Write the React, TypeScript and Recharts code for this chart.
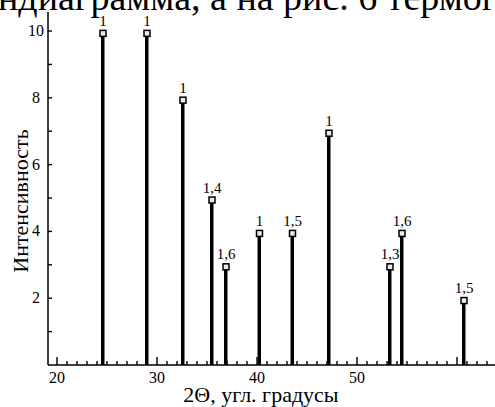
import React from 'react';
import { ComposedChart, Bar, Scatter, XAxis, YAxis, LabelList } from 'recharts';

const angles = [24.6, 29.0, 32.6, 35.5, 36.9, 40.25, 43.55, 47.2, 53.3, 54.5, 60.7];
const intensities = [9.93, 9.93, 7.93, 4.94, 2.94, 3.94, 3.94, 6.94, 2.94, 3.94, 1.93];
const peakLabels = ['1', '1', '1', '1,4', '1,6', '1', '1,5', '1', '1,3', '1,6', '1,5'];

const xTicks = Array.from({ length: 44 }, (_, i) => 20 + i);
const xLabelTicks = [20, 30, 40, 50];
const xMajorTicks = [20, 30, 40, 50, 60];
const yTicks = [1, 2, 3, 4, 5, 6, 7, 8, 9, 10];
const yLabelTicks = [2, 4, 6, 8, 10];

const headerText = 'ндиаграмма, а на рис. 6 термог';
const xTitle = '2Θ, угл. градусы';
const yTitle = 'Интенсивность';

const data = angles.map((a, i) => ({ angle: a, intensity: intensities[i], label: peakLabels[i] }));

const FONT = '"Liberation Serif", "Times New Roman", serif';

const XTick = (props: any) => {
  const { x, y, payload } = props;
  const v = payload.value;
  const major = xMajorTicks.includes(v);
  return (
    <g>
      <line x1={x} y1={y} x2={x} y2={y - (major ? 8 : 4)} stroke="#000" strokeWidth={1.4} />
      {xLabelTicks.includes(v) && (
        <text x={x} y={y + 18} textAnchor="middle" fontSize={16} fontFamily={FONT} fill="#000">
          {v}
        </text>
      )}
    </g>
  );
};

const YTick = (props: any) => {
  const { x, y, payload } = props;
  const v = payload.value;
  return (
    <g>
      <line x1={x} y1={y} x2={x + 4} y2={y} stroke="#000" strokeWidth={1.4} />
      {yLabelTicks.includes(v) && (
        <text x={x - 12} y={y + 5} textAnchor="middle" fontSize={16} fontFamily={FONT} fill="#000">
          {v}
        </text>
      )}
    </g>
  );
};

const Marker = (props: any) => {
  const { cx, cy } = props;
  return <rect x={cx - 3} y={cy - 3} width={6} height={6} fill="#e8e8e8" stroke="#000" strokeWidth={1.5} />;
};

export default function App() {
  return (
    <div style={{ position: 'absolute', left: 0, top: 0, width: 495, height: 407, background: '#fff', overflow: 'hidden' }}>
      <ComposedChart
        width={495}
        height={407}
        data={data}
        margin={{ top: 12, right: 0, bottom: 0, left: 0 }}
      >
        <XAxis
          dataKey="angle"
          type="number"
          domain={[19.1, 63.8]}
          allowDataOverflow
          ticks={xTicks}
          interval={0}
          height={42}
          tickSize={0}
          tickMargin={0}
          tickLine={false}
          tick={<XTick />}
          axisLine={{ stroke: '#000', strokeWidth: 1.5 }}
        />
        <YAxis
          type="number"
          domain={[0, 10.57]}
          allowDataOverflow
          ticks={yTicks}
          interval={0}
          width={48}
          tickSize={0}
          tickMargin={0}
          tickLine={false}
          tick={<YTick />}
          axisLine={{ stroke: '#000', strokeWidth: 1.5 }}
        />
        <Bar dataKey="intensity" fill="#000" barSize={3.5} isAnimationActive={false} />
        <Scatter dataKey="intensity" shape={<Marker />} isAnimationActive={false}>
          <LabelList
            dataKey="label"
            position="top"
            offset={3}
            fontSize={15}
            fontFamily={FONT}
            fill="#000"
          />
        </Scatter>
      </ComposedChart>
      <svg width={495} height={407} style={{ position: 'absolute', left: 0, top: 0, pointerEvents: 'none' }}>
        <text x={-2} y={10} fontSize={38} fontFamily={FONT} fill="#000">
          {headerText}
        </text>
        <text x={261} y={402} textAnchor="middle" fontSize={22} fontFamily={FONT} fill="#000">
          {xTitle}
        </text>
        <text x={28} y={201} textAnchor="middle" fontSize={22} fontFamily={FONT} fill="#000" transform="rotate(-90 28 201)">
          {yTitle}
        </text>
      </svg>
    </div>
  );
}
